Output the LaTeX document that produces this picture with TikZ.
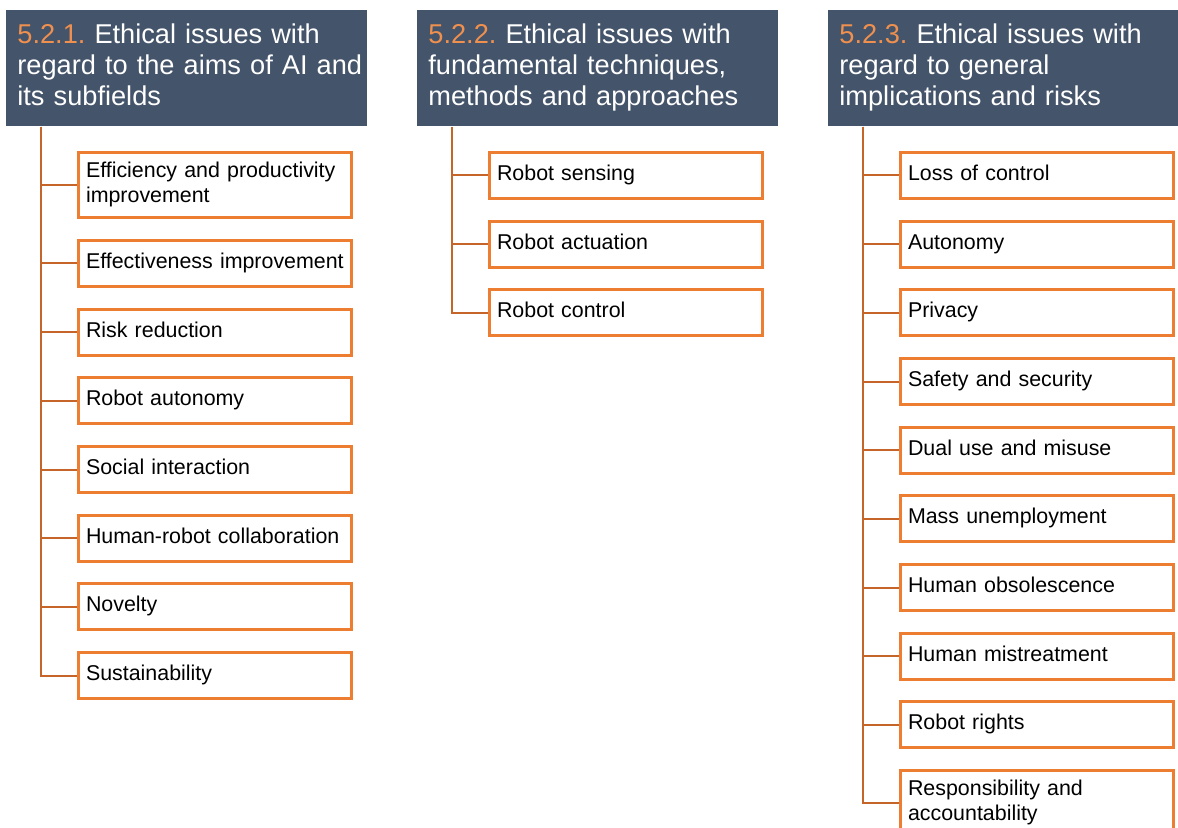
\documentclass[tikz,border=0pt]{standalone}
\usepackage{fontspec}
\setmainfont{Liberation Sans}
\frenchspacing
\definecolor{headbg}{HTML}{44546A}
\definecolor{numorange}{HTML}{F0904F}
\definecolor{boxorange}{HTML}{ED7D31}
\definecolor{lineorange}{HTML}{C5652A}

\begin{document}
\begin{tikzpicture}[
        x=0.5pt,y=-0.5pt,
        head/.style={fill=headbg,text=white,anchor=north west,align=left,
          text width=178.5pt,inner xsep=1pt,minimum height=58pt,
          execute at begin node={\leftskip=4.5pt\strut},execute at end node=\strut,
          font=\fontsize{13.6}{15.5}\selectfont},
        item/.style={draw=boxorange,line width=1.5pt,fill=white,anchor=north west,
          align=left,text width=129pt,inner xsep=3.75pt,inner ysep=4pt,
          execute at begin node=\strut,execute at end node=\strut,
          minimum height=23pt,font=\fontsize{10.7}{12.25}\selectfont},
        branch/.style={draw=lineorange,line width=1pt}
      ]
      \useasboundingbox (0,0) rectangle (1178,828);
      \clip (0,0) rectangle (1178,828);

      % headers
      \node[head] (aims) at (6,10) {\textcolor{numorange}{5.2.1.} Ethical issues with\\regard to the aims of AI and\\its subfields};
      \node[head] (tech) at (417,10) {\textcolor{numorange}{5.2.2.} Ethical issues with\\fundamental techniques,\\methods and approaches};
      \node[head] (risks) at (828,10) {\textcolor{numorange}{5.2.3.} Ethical issues with\\regard to general\\implications and risks};

      \coordinate (aimroot) at ([xshift=17.5pt]aims.south west);
      \coordinate (techroot) at ([xshift=17.5pt]tech.south west);
      \coordinate (riskroot) at ([xshift=17.5pt]risks.south west);

      % first column
      \node[item] (aim1) at (77,151) {Efficiency and productivity\\improvement};
      \foreach \t [count=\i from 2] in {Effectiveness improvement,Risk reduction,Robot autonomy,
        Social interaction,Human-robot collaboration,Novelty,Sustainability}
        \node[item] (aim\i) at (77,{239+68.67*(\i-2)}) {\t};
      \foreach \i in {1,...,8} \draw[branch] (aimroot) |- (aim\i.west);

      % second column
      \foreach \t [count=\i] in {Robot sensing,Robot actuation,Robot control}
        \node[item] (tech\i) at (488,{151+68.67*(\i-1)}) {\t};
      \foreach \i in {1,2,3} \draw[branch] (techroot) |- (tech\i.west);

      % third column
      \foreach \t [count=\i] in {Loss of control,Autonomy,Privacy,Safety and security,
        Dual use and misuse,Mass unemployment,Human obsolescence,Human mistreatment,
        Robot rights,Responsibility and\\accountability}
        \node[item] (risk\i) at (899,{151+68.67*(\i-1)}) {\t};
      \foreach \i in {1,...,10} \draw[branch] (riskroot) |- (risk\i.west);
    \end{tikzpicture}
\end{document}
